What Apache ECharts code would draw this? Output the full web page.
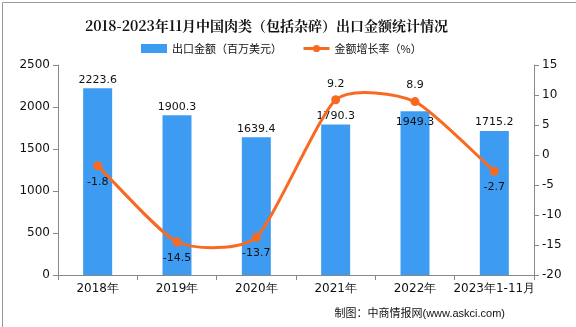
<!DOCTYPE html>
<html><head><meta charset="utf-8">
<script src="https://cdn.jsdelivr.net/npm/echarts@6/dist/echarts.min.js"></script>
<style>html,body{margin:0;padding:0;background:#fff}#c{width:576px;height:327px}</style>
</head><body><div id="c"></div>
<script>
const categories = ['2018年','2019年','2020年','2021年','2022年','2023年1-11月'];
const exportValues = [2223.6,1900.3,1639.4,1790.3,1949.3,1715.2];
const growthRates = [-1.8,-14.5,-13.7,9.2,8.9,-2.7];
const leftTicks = {min:0,max:2500,interval:500};
const rightTicks = {min:-20,max:15,interval:5};

const LINE_COLOR = '#f86a22';
const chart = echarts.init(document.getElementById('c'));
const font = 'SimSun, "DejaVu Sans", sans-serif';
const cjk = '"Noto Sans CJK SC", sans-serif';
const TENSION = 0.2;

function renderCurve(params, api){
  const i = params.dataIndex;
  const n = growthRates.length;
  if (i >= n-1) return null;
  const P = growthRates.map((v,j)=>api.coord([j, v]));
  const tangent = j => {
    if (j === 0) return [P[1][0]-P[0][0], P[1][1]-P[0][1]];
    if (j === n-1) return [P[n-1][0]-P[n-2][0], P[n-1][1]-P[n-2][1]];
    return [(P[j+1][0]-P[j-1][0])/2, (P[j+1][1]-P[j-1][1])/2];
  };
  const m0 = tangent(i), m1 = tangent(i+1);
  return {
    type:'bezierCurve',
    shape:{x1:P[i][0],y1:P[i][1],x2:P[i+1][0],y2:P[i+1][1],
      cpx1:P[i][0]+TENSION*m0[0],cpy1:P[i][1]+TENSION*m0[1],
      cpx2:P[i+1][0]-TENSION*m1[0],cpy2:P[i+1][1]-TENSION*m1[1]},
    style:{stroke:LINE_COLOR,lineWidth:3,fill:null}
  };
}

// bar label placed inside the bar where the growth point sits on top of it (as in the source)
const barData = exportValues.map((v,i)=> i===4
  ? {value:v,label:{position:'insideTop',distance:5}}
  : v);

chart.setOption({
  animation:false,
  title:{text:'2018-2023年11月中国肉类（包括杂碎）出口金额统计情况',left:80,top:14,
    textStyle:{fontSize:14,fontWeight:'bold',color:'#111',fontFamily:'"Noto Serif CJK SC","Noto Sans CJK SC",serif'}},
  legend:{top:38,left:136,itemGap:20,itemWidth:26,itemHeight:9,
    textStyle:{fontSize:11,color:'#111',fontFamily:cjk},
    data:[{name:'出口金额（百万美元）',icon:'rect'},
          {name:'金额增长率（%）',lineStyle:{color:LINE_COLOR,width:3,opacity:1}}]},
  grid:{left:58,right:42,top:65,bottom:52},
  xAxis:{type:'category',data:categories,axisLine:{lineStyle:{color:'#888'}},
    axisTick:{show:true,lineStyle:{color:'#888'}},
    axisLabel:{color:'#111',fontSize:12,margin:8,interval:0,fontFamily:font}},
  yAxis:[
    {type:'value',min:leftTicks.min,max:leftTicks.max,interval:leftTicks.interval,
     axisLine:{show:true,lineStyle:{color:'#888'}},axisTick:{show:true,lineStyle:{color:'#888'}},
     splitLine:{show:false},axisLabel:{color:'#111',fontSize:12,fontFamily:font,formatter:v=>String(v)}},
    {type:'value',min:rightTicks.min,max:rightTicks.max,interval:rightTicks.interval,
     axisLine:{show:true,lineStyle:{color:'#888'}},axisTick:{show:true,lineStyle:{color:'#888'}},
     splitLine:{show:false},axisLabel:{color:'#111',fontSize:12,fontFamily:font,formatter:v=>String(v)}}
  ],
  series:[
    {name:'出口金额（百万美元）',type:'bar',data:barData,barWidth:29,
     itemStyle:{color:'#3d9cf2'},
     label:{show:true,position:'top',color:'#111',fontSize:11,fontFamily:font,distance:3}},
    {name:'curve',type:'custom',yAxisIndex:1,z:3,
     data:growthRates.map((v,i)=>[i,v]),encode:{x:0,y:1},
     renderItem:renderCurve,silent:true},
    {name:'金额增长率（%）',type:'line',yAxisIndex:1,z:4,
     data:growthRates.map(v=>({value:v,label:{position: v>0?'top':'bottom'}})),
     symbol:'circle',symbolSize:9,
     lineStyle:{color:LINE_COLOR,width:3,opacity:0},itemStyle:{color:LINE_COLOR},
     label:{show:true,color:'#111',fontSize:11,fontFamily:font,distance:6}}
  ],
  graphic:[
    {type:'rect',left:0,top:0,shape:{width:575,height:326},style:{fill:'none',stroke:'#999',lineWidth:1}},
    {type:'text',right:71,bottom:8,style:{text:'制图：中商情报网(www.askci.com)',fontSize:11,fill:'#111',fontFamily:'"Liberation Sans","Noto Sans CJK SC",sans-serif'}}
  ]
});
</script></body></html>
